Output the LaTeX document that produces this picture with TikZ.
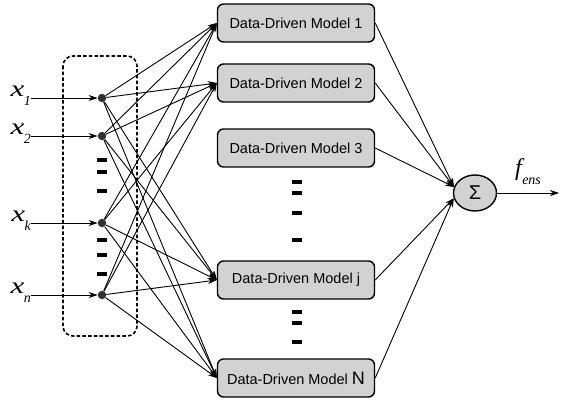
\documentclass[tikz,border=0pt]{standalone}
\usepackage{fontspec}
\setmainfont{Liberation Sans}
\newfontfamily\serifit{Liberation Serif}
\usetikzlibrary{shapes.geometric,arrows.meta,calc}
\definecolor{boxgrey}{RGB}{210,210,210}
\definecolor{dotgrey}{RGB}{50,50,50}
\begin{document}
\begin{tikzpicture}[x=1pt,y=-1pt,
 model/.style={draw, line width=1.4pt, fill=boxgrey, rounded corners=6pt, minimum width=157pt, minimum height=38pt, inner sep=0pt, font=\fontsize{14.5}{16}\selectfont},
 dotnode/.style={circle, fill=dotgrey, inner sep=0pt, minimum size=8.5pt},
 bar/.style={fill=black, minimum width=9.5pt, minimum height=4pt, inner sep=0pt},
 conn/.style={-{Stealth[length=9pt,width=6pt]}, line width=0.9pt},
 xlabel/.style={anchor=east, inner sep=0pt},
]
\useasboundingbox (0,0) rectangle (561,401);
% dashed input box
\draw[line width=1.6pt, rounded corners=10pt, dash pattern=on 3.5pt off 2.2pt] (63,56) rectangle (137,336);
% input dots
\node[dotnode] (xa) at (102,98) {};
\node[dotnode] (xb) at (102,136) {};
\node[dotnode] (xk) at (102,223) {};
\node[dotnode] (xn) at (102,295) {};
% input labels
\newcommand{\inlabel}[1]{\serifit\itshape\fontsize{23}{23}\selectfont \scalebox{1.35}[1]{x}\kern-0.5pt\raisebox{-9pt}{\fontsize{14}{14}\selectfont #1}}
\node[xlabel] (la) at (31,96) {\inlabel{1}};
\node[xlabel] (lb) at (31,134) {\inlabel{2}};
\node[xlabel] (lk) at (31,221) {\inlabel{k}};
\node[xlabel] (ln) at (31,293) {\inlabel{n}};
\draw[conn] (la.east |- xa) -- (xa);
\draw[conn] (lb.east |- xb) -- (xb);
\draw[conn] (lk.east |- xk) -- (xk);
\draw[conn] (ln.east |- xn) -- (xn);
% left bars
\foreach \y [count=\c] in {160,172,191,240,255,274} \node[bar] (lbar\c) at (102,\y) {};
% models
\node[model] (m1) at (296,23) {Data-Driven Model 1};
\node[model] (m2) at (296,83) {Data-Driven Model 2};
\node[model] (m3) at (296,148) {Data-Driven Model 3};
\node[model] (mj) at (296,280) {Data-Driven Model j};
\node[model] (mN) at (296,378) {Data-Driven Model {\fontsize{18}{18}\selectfont N}};
% middle bars
\foreach \y [count=\c] in {182,193,213,240,312,323,342} \node[bar] (mbar\c) at (297,\y) {};
% input to model connections
\foreach \i in {xa,xb,xk,xn}
  \foreach \m in {m1,m2,mj,mN}
    \draw[conn] (\i) -- (\m.west);
% sum node
\node[ellipse, draw, fill=boxgrey, line width=1.4pt, minimum width=43pt, minimum height=36pt, inner sep=0pt] (sig) at (475,193) {\fontsize{20}{20}\selectfont Σ};
\draw[conn] (m1.east) -- (sig.164);
\draw[conn] (m2.east) -- (sig.164);
\draw[conn] (m3.east) -- (sig.164);
\draw[conn] (mj.east) -- (sig.194);
\draw[conn] (mN.east) -- (sig.194);
% output
\coordinate (out) at (559,193);
\draw[conn] (sig.east) -- (out);
\node (fe) at (528,172) {\serifit\itshape\fontsize{24}{24}\selectfont f\kern0.5pt\raisebox{-9pt}{\fontsize{14}{14}\selectfont ens}};
\end{tikzpicture}
\end{document}
